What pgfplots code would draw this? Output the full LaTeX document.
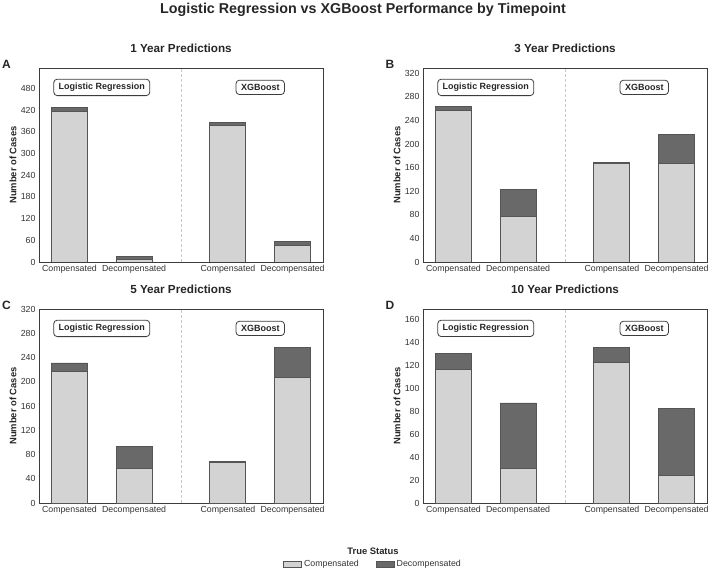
\documentclass[border=0pt]{standalone}
\usepackage{pgfplots}
\pgfplotsset{compat=1.18}
\usepackage{fontspec}
\setmainfont{Liberation Sans}
\definecolor{lightbar}{HTML}{D3D3D3}
\definecolor{darkbar}{HTML}{696969}
\definecolor{edgecol}{HTML}{555555}
\definecolor{framecol}{HTML}{3C3C3C}
\definecolor{txtcol}{HTML}{262626}
\definecolor{tickcol}{HTML}{333333}
\definecolor{divcol}{HTML}{C8C8C8}

\pgfplotsset{
  panel/.style={
    width=284pt, height=194pt, scale only axis, anchor=south west,
    xmin=-0.47, xmax=3.92, ymin=0,
    ybar stacked, bar width=0.557,
    xtick={0,1,2.45,3.45},
    xticklabels={Compensated,Decompensated,Compensated,Decompensated},
    major tick length=0pt,
    /pgf/number format/assume math mode=true,
    tick label style={font=\fontsize{8.8}{10}\selectfont, text=tickcol},
    axis line style={draw=framecol, line width=0.9pt},
    ylabel={Number of Cases},
    every axis y label/.style={at={(axis description cs:-0.0915,0.5)}, rotate=90, anchor=center, font=\bfseries\fontsize{9.4}{11}\selectfont, text=txtcol},
    title style={at={(axis description cs:0.5,1)}, anchor=base, yshift=9pt, font=\bfseries\fontsize{11.7}{13}\selectfont, text=txtcol},
    legend image code/.code={\draw[#1] (0pt,-3pt) rectangle (18pt,3pt);},
  },
  lightst/.style={fill=lightbar, draw=edgecol, line width=0.9pt},
  darkst/.style={fill=darkbar, draw=edgecol, line width=0.9pt},
}
\tikzset{
  lbl/.style={draw=framecol, line width=0.8pt, fill=white, rounded corners=3.5pt, font=\bfseries\fontsize{9}{10}\selectfont, text=txtcol, inner xsep=5pt, inner ysep=4pt, anchor=center},
  divl/.style={divcol, dash pattern=on 3pt off 2pt, line width=0.7pt},
  letter/.style={anchor=base west, font=\bfseries\fontsize{12}{14}\selectfont, text=txtcol, inner sep=0pt},
}

\begin{document}
\begin{tikzpicture}
\path[use as bounding box] (0pt,0pt) rectangle (709pt,570pt);

% Panel A
\begin{axis}[panel, at={(39pt,308pt)}, ymax=536, ytick distance=60, title={1 Year Predictions}]
\addplot[lightst] coordinates {(0,415) (1,7) (2.45,376) (3.45,46)};
\addplot[darkst] coordinates {(0,13) (1,8) (2.45,10) (3.45,11)};
\draw[divl] (axis cs:1.725,0) -- (axis cs:1.725,536);
\node[lbl] at (axis cs:0.5,482.4) {Logistic Regression};
\node[lbl] at (axis cs:2.95,482.4) {XGBoost};
\end{axis}

% Panel B
\begin{axis}[panel, at={(423pt,308pt)}, ymax=329, ytick distance=40, title={3 Year Predictions}]
\addplot[lightst] coordinates {(0,257) (1,77) (2.45,167) (3.45,167)};
\addplot[darkst] coordinates {(0,6) (1,46) (2.45,2) (3.45,50)};
\draw[divl] (axis cs:1.725,0) -- (axis cs:1.725,329);
\node[lbl] at (axis cs:0.5,296.1) {Logistic Regression};
\node[lbl] at (axis cs:2.95,296.1) {XGBoost};
\end{axis}

% Panel C
\begin{axis}[panel, at={(39pt,67pt)}, ymax=320, ytick distance=40, title={5 Year Predictions},
  legend style={at={(axis description cs:1.176,-0.317)}, anchor=center, draw=none, fill=none,
    legend columns=2, font=\fontsize{8.8}{10}\selectfont, text=tickcol,
    /tikz/every even column/.append style={column sep=15pt}}]
\addplot[lightst] coordinates {(0,217) (1,57) (2.45,67) (3.45,207)};
\addplot[darkst] coordinates {(0,14) (1,37) (2.45,2) (3.45,49)};
\legend{Compensated,Decompensated}
\draw[divl] (axis cs:1.725,0) -- (axis cs:1.725,320);
\node[lbl] at (axis cs:0.5,288) {Logistic Regression};
\node[lbl] at (axis cs:2.95,288) {XGBoost};
\end{axis}

% Panel D
\begin{axis}[panel, at={(423pt,67pt)}, ymax=168.75, ytick distance=20, title={10 Year Predictions}]
\addplot[lightst] coordinates {(0,116) (1,30) (2.45,122) (3.45,24)};
\addplot[darkst] coordinates {(0,14) (1,57) (2.45,13) (3.45,58)};
\draw[divl] (axis cs:1.725,0) -- (axis cs:1.725,168.75);
\node[lbl] at (axis cs:0.5,151.9) {Logistic Regression};
\node[lbl] at (axis cs:2.95,151.9) {XGBoost};
\end{axis}

\node[letter] at (2pt,501.7pt) {A};
\node[letter] at (385.5pt,501.7pt) {B};
\node[letter] at (2pt,260pt) {C};
\node[letter] at (385.5pt,260.5pt) {D};

\node[font=\bfseries\fontsize{14.3}{16}\selectfont, text=txtcol, anchor=base, inner sep=0pt] at (363pt,556.7pt) {Logistic Regression vs XGBoost Performance by Timepoint};
\node[font=\bfseries\fontsize{9.4}{11}\selectfont, text=txtcol, anchor=base, inner sep=0pt] at (373pt,15.7pt) {True Status};
\end{tikzpicture}
\end{document}
